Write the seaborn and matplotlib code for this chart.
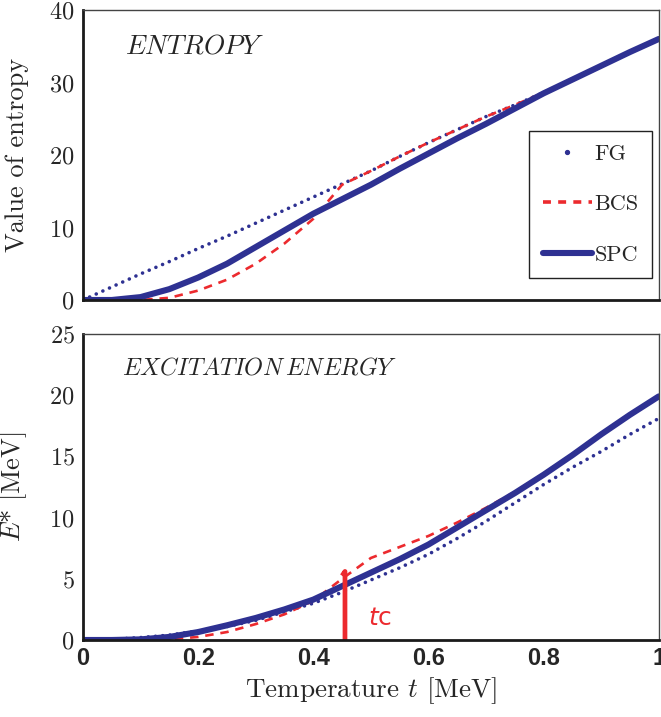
import matplotlib
matplotlib.use("Agg")
import matplotlib.pyplot as plt
from matplotlib.lines import Line2D
import pandas as pd
import seaborn as sns

# ── data ───────────────────────────────────────────────────────────────────────

T = [0.0, 0.05, 0.1, 0.15, 0.2, 0.25, 0.3, 0.35, 0.4, 0.45, 0.5,
     0.55, 0.6, 0.65, 0.7, 0.75, 0.8, 0.85, 0.9, 0.95, 1.0]

S_FG = [0.0, 1.8, 3.6, 5.3, 7.1, 8.8, 10.6, 12.4, 14.2, 16.0, 17.8,
        19.8, 21.7, 23.5, 25.3, 26.9, 28.6, 30.4, 32.2, 34.1, 36.0]
S_BCS = [0.0, 0.0, 0.0, 0.3, 1.3, 2.8, 5.0, 7.8, 11.2, 15.9, 17.8,
         19.8, 21.7, 23.5, 25.3, 26.9, 28.6, 30.4, 32.2, 34.1, 36.0]
S_SPC = [0.0, 0.0, 0.4, 1.5, 3.1, 5.0, 7.3, 9.6, 11.9, 13.9, 15.9,
         18.1, 20.2, 22.3, 24.3, 26.4, 28.5, 30.4, 32.3, 34.2, 36.0]

E_FG = [0.0, 0.05, 0.2, 0.4, 0.75, 1.1, 1.6, 2.3, 3.0, 3.9, 4.9,
        5.9, 7.0, 8.3, 9.7, 11.2, 12.7, 14.1, 15.4, 16.8, 18.1]
E_BCS = [0.0, 0.0, 0.0, 0.05, 0.25, 0.65, 1.3, 2.1, 3.2, 5.0, 6.7,
         7.6, 8.5, 9.6, 10.8, 12.1, 13.6, 15.2, 16.9, 18.5, 19.9]
E_SPC = [0.0, 0.0, 0.05, 0.25, 0.65, 1.2, 1.8, 2.5, 3.3, 4.4, 5.5,
         6.6, 7.8, 9.2, 10.6, 12.0, 13.5, 15.1, 16.8, 18.4, 19.9]

TC = 0.455          # critical temperature marker
TC_TOP = 5.6        # height of the marker line

NAVY = "#2e3192"
RED = "#ec2a2e"

# ── style ──────────────────────────────────────────────────────────────────────

sns.set_theme(style="white")
plt.rcParams.update({
    "font.family": ["cmr10", "DejaVu Serif"],
    "mathtext.fontset": "cm",
    "axes.formatter.use_mathtext": True,
    "axes.unicode_minus": False,
    "xtick.direction": "in",
    "ytick.direction": "in",
})

entropy = pd.DataFrame({"t": T, "FG": S_FG, "BCS": S_BCS, "SPC": S_SPC})
energy = pd.DataFrame({"t": T, "FG": E_FG, "BCS": E_BCS, "SPC": E_SPC})

fig = plt.figure(figsize=(6.61, 7.17), dpi=100)
ax1 = fig.add_axes([0.1256, 0.5816, 0.871, 0.4045])
ax2 = fig.add_axes([0.1256, 0.1074, 0.871, 0.4268])


def draw_series(ax, df):
    sns.lineplot(data=df, x="t", y="FG", ax=ax, color=NAVY, lw=2.6,
                 linestyle=(0, (0.01, 2.0)), dash_capstyle="round")
    sns.lineplot(data=df, x="t", y="BCS", ax=ax, color=RED, lw=1.9,
                 linestyle=(0, (3.2, 2.6)))
    sns.lineplot(data=df, x="t", y="SPC", ax=ax, color=NAVY, lw=4.4,
                 solid_capstyle="round", solid_joinstyle="round")


def style_axes(ax, yticks):
    ax.set_xlim(0, 1)
    ax.set_ylim(yticks[0], yticks[-1])
    ax.set_xticks([0, 0.2, 0.4, 0.6, 0.8, 1.0])
    ax.set_yticks(yticks)
    ax.tick_params(axis="both", length=5, width=1.2, color="#222222",
                   top=False, right=False)
    ax.tick_params(axis="y", labelsize=17.5, pad=6)
    for side in ("left", "bottom"):
        ax.spines[side].set_linewidth(2.0)
        ax.spines[side].set_color("#1a1a1a")
    for side in ("top", "right"):
        ax.spines[side].set_linewidth(1.0)
        ax.spines[side].set_color("#444444")
    ax.set_xlabel("")


draw_series(ax1, entropy)
draw_series(ax2, energy)
style_axes(ax1, [0, 10, 20, 30, 40])
style_axes(ax2, [0, 5, 10, 15, 20, 25])

ax1.tick_params(axis="x", labelbottom=False)
ax2.set_xticklabels(["0", "0.2", "0.4", "0.6", "0.8", "1"],
                    family="Liberation Sans", fontweight="bold", fontsize=17)
ax2.tick_params(axis="x", pad=5)

ax1.set_ylabel("Value of entropy", fontsize=19)
ax2.set_ylabel(r"$E$* [MeV]", fontsize=19)
ax1.yaxis.set_label_coords(-0.093, 0.5)
ax2.yaxis.set_label_coords(-0.093, 0.5)
ax2.set_xlabel(r"Temperature $t$ [MeV]", fontsize=19.5, labelpad=4)

ax1.text(0.073, 35, r"$\mathit{ENTROPY}$", fontsize=19.5, va="center",
         ha="left")
ax2.text(0.068, 22.2, r"$\mathit{EXCITATION\,ENERGY}$", fontsize=17.3,
         va="center", ha="left")

# critical temperature marker
ax2.plot([TC - 0.005, TC, TC], [TC_TOP - 0.35, TC_TOP, 0], color=RED,
         lw=3.4, solid_joinstyle="round", solid_capstyle="butt",
         clip_on=False)
ax2.text(TC + 0.04, 1.8, r"$\mathit{t}$c", color=RED, fontsize=18,
         family="DejaVu Sans", math_fontfamily="dejavusans",
         va="center", ha="left")

handles = [
    Line2D([], [], color=NAVY, linestyle="none", marker="o", markersize=2.8),
    Line2D([], [], color=RED, lw=2.6, linestyle=(0, (2.2, 2.0))),
    Line2D([], [], color=NAVY, lw=4.4, solid_capstyle="round"),
]
leg = ax1.legend(handles, ["FG", "BCS", "SPC"], loc="lower right",
                 bbox_to_anchor=(0.988, 0.075), fontsize=16, frameon=True,
                 fancybox=False, framealpha=1, edgecolor="#222222",
                 labelspacing=1.4, borderpad=0.6, handlelength=2.2,
                 handletextpad=0.12, borderaxespad=0)
leg.get_frame().set_linewidth(1.0)

fig.savefig("out.png", dpi=100)
